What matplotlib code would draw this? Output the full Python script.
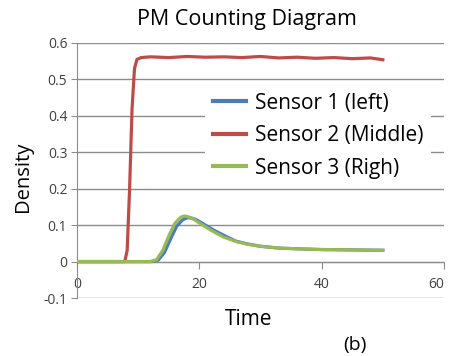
import matplotlib
matplotlib.use("Agg")
import matplotlib.pyplot as plt

plt.rcParams['font.family'] = ['Open Sans', 'DejaVu Sans']

# values
t_red = [0, 7.8, 8.2, 8.6, 9.0, 9.4, 9.8, 10.5, 12, 15, 18, 21, 24, 27, 30, 33, 36, 39, 42, 45, 48, 50]
s2 = [0, 0, 0.03, 0.2, 0.42, 0.53, 0.555, 0.56, 0.562, 0.56, 0.563, 0.561, 0.562, 0.56, 0.563, 0.559, 0.561, 0.558, 0.56, 0.557, 0.559, 0.554]

t_green = [0, 12, 13, 14, 15, 16, 17, 17.5, 18, 19, 20, 22, 24, 26, 28, 30, 33, 36, 40, 45, 50]
s3 = [0, 0, 0.005, 0.03, 0.07, 0.105, 0.122, 0.125, 0.124, 0.117, 0.106, 0.085, 0.067, 0.055, 0.047, 0.042, 0.037, 0.035, 0.033, 0.032, 0.031]

t_blue = [0, 12.3, 13.3, 14.3, 15.3, 16.3, 17.3, 18, 18.6, 19.5, 20.5, 22.5, 24.5, 26, 28, 30, 33, 36, 40, 45, 50]
s1 = [0, 0, 0.004, 0.025, 0.062, 0.097, 0.115, 0.12, 0.12, 0.115, 0.105, 0.085, 0.068, 0.056, 0.048, 0.042, 0.037, 0.035, 0.033, 0.032, 0.031]

labels = ["Sensor 1 (left)", "Sensor 2 (Middle)", "Sensor 3 (Righ)"]
colors = ["#4a7ebb", "#be4b48", "#98b954"]

fig = plt.figure(figsize=(4.52, 3.56), dpi=100)
ax = fig.add_axes([77 / 452, 1 - 298 / 356, 367 / 452, 255 / 356])

ax.plot(t_blue, s1, color=colors[0], lw=2.3, label=labels[0], zorder=3)
ax.plot(t_red, s2, color=colors[1], lw=2.3, label=labels[1], zorder=3)
ax.plot(t_green, s3, color=colors[2], lw=2.3, label=labels[2], zorder=4)

ax.set_xlim(0, 60)
ax.set_ylim(-0.1, 0.6)
ax.set_xticks([0, 20, 40, 60])
ax.set_yticks([-0.1, 0, 0.1, 0.2, 0.3, 0.4, 0.5, 0.6])
ax.set_yticklabels(["-0.1", "0", "0.1", "0.2", "0.3", "0.4", "0.5", "0.6"])
ax.grid(axis='y', color='#8c8c8c', lw=1)
ax.set_axisbelow(True)

for s in ['top', 'right']:
    ax.spines[s].set_visible(False)
ax.spines['bottom'].set_position(('data', 0))
ax.spines['bottom'].set_color('#8c8c8c')
ax.spines['left'].set_color('#8c8c8c')
ax.tick_params(axis='x', direction='out', length=5, color='#8c8c8c', labelsize=10, pad=6, labelcolor='#404040')
ax.tick_params(axis='y', direction='out', length=4, color='#8c8c8c', labelsize=10, pad=3, labelcolor='#404040')
ax.get_xticklabels()[-1].set_horizontalalignment('right')
ax.get_xticklabels()[-1].set_x(60)

fig.text(247 / 452, 1 - 19 / 356, "PM Counting Diagram", fontsize=15.5, ha='center', va='center')
ax.set_ylabel("Density", fontsize=14.5)
ax.yaxis.set_label_coords(-0.12, 0.475)
ax.set_xlabel("Time", fontsize=15,
              bbox=dict(facecolor='white', edgecolor='none', pad=12))
ax.xaxis.set_label_coords(0.468, -0.045)

leg = ax.legend(loc='upper left', bbox_to_anchor=(118 / 367, 0.875), frameon=True, fontsize=15,
                handlelength=1.6, labelspacing=0.55, borderpad=0.35, handletextpad=0.45)
leg.get_frame().set_edgecolor('none')
leg.get_frame().set_facecolor('white')
leg.get_frame().set_alpha(1)
leg.get_frame().set_boxstyle('square', pad=0)
for h in leg.get_lines():
    h.set_linewidth(3)

fig.text(355 / 452, 1 - 345 / 356, "(b)", fontsize=14, ha='center', va='center')

fig.savefig("out.png", dpi=100)
